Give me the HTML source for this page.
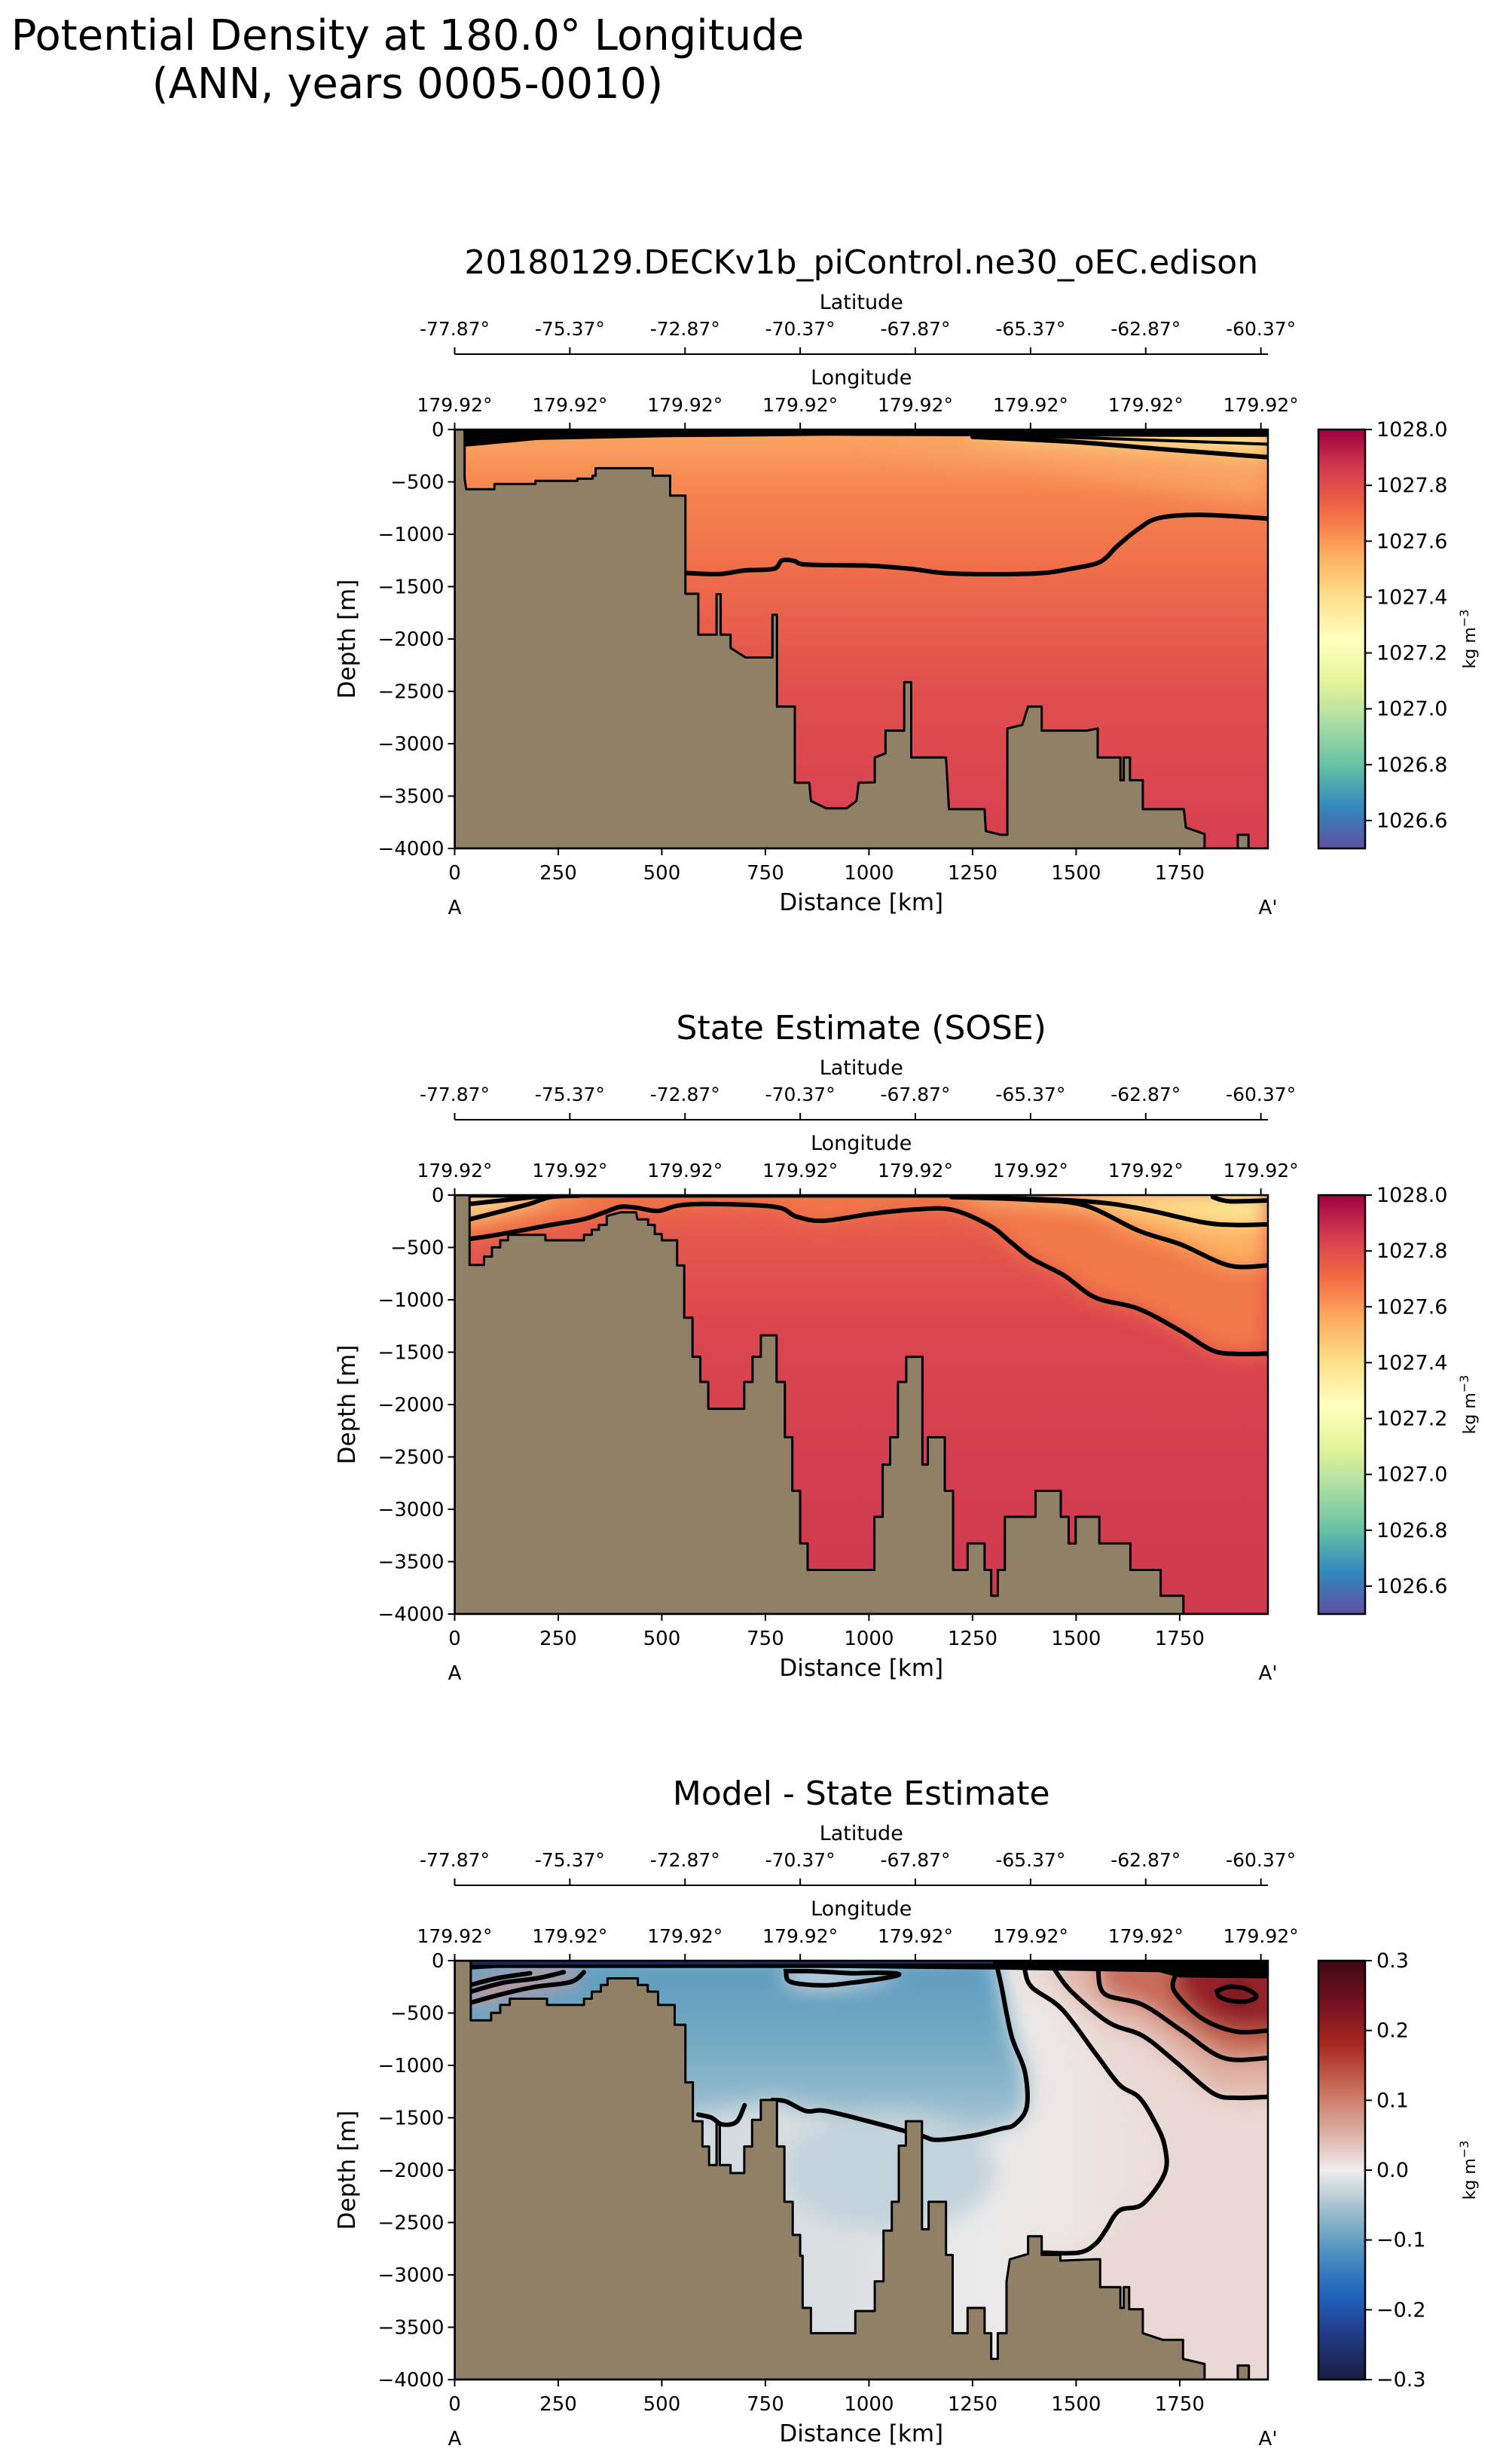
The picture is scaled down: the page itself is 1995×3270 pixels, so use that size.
<!DOCTYPE html>
<html><head><meta charset="utf-8"><style>
html,body{margin:0;padding:0;background:#fff;}
svg{display:block;font-family:"DejaVu Sans","Liberation Sans",sans-serif;}
</style></head><body>
<svg id="fig" xmlns="http://www.w3.org/2000/svg" width="1995" height="3270" viewBox="0 0 1995 3270">
<rect x="0" y="0" width="1995" height="3270" fill="#ffffff"/>
<text x="541" y="66" font-size="56" text-anchor="middle">Potential Density at 180.0° Longitude</text>
<text x="541" y="130" font-size="56" text-anchor="middle">(ANN, years 0005-0010)</text>
</svg>
<script>
// ---- data arrays ----
const distTicks=[0,250,500,750,1000,1250,1500,1750];
const depthTicks=[0,-500,-1000,-1500,-2000,-2500,-3000,-3500,-4000];
const latLabels=['-77.87°','-75.37°','-72.87°','-70.37°','-67.87°','-65.37°','-62.87°','-60.37°'];
const lonLabels=['179.92°','179.92°','179.92°','179.92°','179.92°','179.92°','179.92°','179.92°'];
const latTickKm=[0,278,556,834,1112,1390,1668,1946];
const cbTicksRho=[1026.6,1026.8,1027.0,1027.2,1027.4,1027.6,1027.8,1028.0];
const cbTicksDiff=[-0.3,-0.2,-0.1,0.0,0.1,0.2,0.3];
// bathymetry (km, depth m)
const bathyModel=[[0,0],[24,0],[24,470],[28,570],[96,570],[96,520],[195,520],[195,490],[296,490],[296,470],[333,470],[333,440],[340,440],[340,370],[478,370],[478,440],[520,440],[520,632],[557,632],[557,1568],[588,1568],[588,1959],[632,1959],[632,1572],[642,1572],[642,1959],[666,1959],[666,2085],[702,2176],[767,2176],[767,1769],[778,1769],[778,2646],[821,2646],[821,3372],[856,3372],[860,3546],[897,3617],[946,3617],[970,3546],[975,3372],[1014,3369],[1014,3132],[1040,3092],[1040,2875],[1085,2875],[1085,2413],[1102,2413],[1102,3132],[1186,3132],[1193,3625],[1279,3625],[1282,3834],[1319,3870],[1334,3870],[1334,2855],[1370,2820],[1384,2646],[1417,2646],[1417,2875],[1526,2875],[1552,2855],[1552,3132],[1607,3132],[1607,3349],[1615,3349],[1615,3132],[1630,3132],[1630,3349],[1661,3349],[1661,3625],[1760,3625],[1765,3800],[1810,3862],[1810,4000],[1890,4000],[1890,3870],[1916,3870],[1916,4000],[1963,4000],[1963,4000]];
const bathySose=[[0,0],[36,0],[36,667],[71,667],[71,587],[90,587],[90,499],[110,499],[110,432],[129,432],[129,379],[219,379],[219,432],[312,432],[312,379],[331,379],[331,331],[348,331],[348,285],[367,285],[367,200],[400,165],[438,165],[441,232],[467,232],[467,285],[483,285],[483,373],[500,373],[500,432],[537,432],[537,672],[554,672],[554,1171],[574,1171],[574,1544],[593,1544],[593,1784],[612,1784],[612,2040],[699,2040],[699,1784],[719,1784],[719,1544],[739,1544],[739,1339],[777,1339],[777,1784],[797,1784],[797,2312],[815,2312],[815,2824],[834,2824],[834,3326],[852,3326],[852,3579],[1013,3579],[1013,3072],[1033,3072],[1033,2574],[1051,2574],[1051,2312],[1070,2312],[1070,1784],[1090,1784],[1090,1544],[1129,1544],[1129,2574],[1142,2574],[1142,2312],[1183,2312],[1183,2824],[1203,2824],[1203,3579],[1238,3579],[1238,3326],[1279,3326],[1279,3579],[1295,3579],[1295,3825],[1311,3825],[1311,3579],[1328,3579],[1328,3072],[1402,3072],[1402,2824],[1463,2824],[1463,3072],[1482,3072],[1482,3326],[1499,3326],[1499,3072],[1556,3072],[1556,3326],[1631,3326],[1631,3579],[1704,3579],[1704,3825],[1759,3825],[1759,4000],[1963,4000]];
const bathySoseDiff=[[0,0],[39,0],[39,570],[88,570],[88,498],[110,498],[110,422],[133,422],[133,363],[223,363],[223,422],[312,422],[312,363],[331,363],[331,296],[353,296],[353,232],[369,232],[369,169],[442,169],[442,232],[466,232],[466,296],[491,296],[491,422],[531,422],[531,612],[557,612],[557,1162],[575,1162],[575,1533],[598,1533],[598,1774],[614,1774],[614,1951],[632,1951],[632,1563],[640,1563],[640,1951],[666,1951],[666,2028],[699,2028],[699,1774],[718,1774],[718,1520],[739,1520],[739,1330],[778,1330],[778,1774],[796,1774],[796,2302],[816,2302],[816,2619],[834,2619],[834,2817],[840,2817],[840,3316],[860,3316],[860,3557],[967,3557],[967,3345],[1014,3345],[1014,3062],[1035,3062],[1035,2577],[1055,2577],[1055,2302],[1072,2302],[1072,1766],[1089,1766],[1089,1533],[1128,1533],[1128,2564],[1144,2564],[1144,2302],[1186,2302],[1186,2809],[1202,2809],[1202,3557],[1238,3557],[1238,3316],[1279,3316],[1279,3557],[1295,3557],[1295,3802],[1311,3802],[1311,3557],[1332,3557],[1332,3062],[1340,2851],[1384,2800],[1384,2632],[1417,2632],[1417,2809],[1462,2809],[1462,2864],[1547,2851],[1558,2851],[1558,3117],[1607,3117],[1607,3316],[1615,3316],[1615,3117],[1628,3117],[1628,3328],[1661,3328],[1661,3557],[1709,3620],[1758,3620],[1758,3802],[1810,3850],[1810,4000],[1890,4000],[1890,3865],[1917,3865],[1917,4000],[1963,4000]];
// contours panel 1 (model)
const m1Deep=[[557,1370],[640,1380],[700,1345],[770,1330],[790,1250],[820,1255],[850,1290],[1000,1300],[1100,1330],[1200,1375],[1400,1375],[1500,1320],[1560,1260],[1600,1110],[1650,950],[1700,845],[1800,815],[1963,850]];
const m1TopA=[[1250,70],[1500,120],[1700,185],[1963,265]];
const m1TopB=[[1350,60],[1600,90],[1963,140]];
const m1Band=[[0,0],[1963,0],[1963,70],[1700,70],[1300,65],[900,60],[500,75],[200,100],[24,165],[0,165]];
// contours panel 2 (SOSE)
const s1=[[36,419],[103,379],[232,285],[310,232],[361,165],[400,112],[438,120],[490,152],[541,99],[619,85],[773,112],[825,205],[889,245],[1006,179],[1108,139],[1199,139],[1289,285],[1341,445],[1392,605],[1470,765],[1547,979],[1650,1085],[1753,1299],[1830,1485],[1895,1517],[1963,1512]];
const s2=[[36,232],[103,165],[180,85],[232,19],[300,5]];
const s3=[[36,85],[129,45],[219,5]];
const sR1=[[1199,19],[1392,45],[1521,99],[1650,339],[1753,472],[1869,672],[1963,672]];
const sR2=[[1263,19],[1521,59],[1650,125],[1805,259],[1882,285],[1963,280]];
const sR3=[[1830,19],[1869,59],[1963,51]];
// contours panel 3 (difference)
const dZero=[[1311,90],[1320,250],[1344,718],[1376,1056],[1381,1394],[1352,1563],[1319,1605],[1254,1668],[1165,1711],[1124,1668],[1027,1563],[897,1436],[848,1436],[799,1343],[767,1330]];
const dZeroLeft=[[588,1470],[620,1500],[645,1563],[680,1540],[700,1380]];
const dW=[[1376,90],[1393,253],[1466,465],[1547,887],[1604,1183],[1653,1309],[1693,1563],[1714,1774],[1714,2028],[1661,2323],[1604,2387],[1571,2577],[1547,2703],[1506,2788],[1417,2788]];
const dR2=[[1449,90],[1489,296],[1579,591],[1661,718],[1742,972],[1831,1267],[1888,1309],[1963,1300]];
const dR3=[[1553,90],[1569,317],[1661,422],[1758,676],[1856,929],[1963,929]];
const dR4=[[1738,148],[1738,296],[1803,549],[1885,676],[1963,667]];
const dLoop=[[1840,290],[1870,250],[1910,270],[1935,340],[1910,390],[1870,380],[1845,340]];
const dSmall=[[800,100],[805,190],[840,225],[900,235],[960,210],[1000,190],[1060,150],[1070,125],[1020,115],[960,120],[900,108],[850,100]];
const dL1=[[39,401],[117,317],[190,253],[280,203],[312,110]];
const dL2=[[39,296],[117,211],[198,169],[263,110]];
const dL3=[[39,232],[101,169],[182,120]];

// ---- geometry ----
const PX0=603.5, PX1=1683, XMAX=1963, H=556;
const TOPS=[570,1586,2602];
const CBX=1750, CBW=62;
const NS='http://www.w3.org/2000/svg';
const svg=document.getElementById('fig');
function X(km){return PX0+km*(PX1-PX0)/XMAX;}
function Y(d,T){return T+d/4000*H;}
function mk(tag,attrs,name,parent){
  const el=document.createElementNS(NS,tag);
  for(const k in attrs) el.setAttribute(k,attrs[k]);
  
  
  (parent||svg).appendChild(el);
  return el;
}
function txt(s,x,y,size,anchor,name,parent,extra){
  const a={x:x,y:y,'font-size':size,'text-anchor':anchor||'middle',fill:'#000'};
  if(extra) for(const k in extra) a[k]=extra[k];
  const t=mk('text',a,name,parent); t.textContent=s; return t;
}
function ptsStr(arr,T){return arr.map(p=>X(p[0]).toFixed(1)+','+Y(p[1],T).toFixed(1)).join(' ');}
function smoothPath(arr,T,close){
  const P=arr.map(p=>[X(p[0]),Y(p[1],T)]);
  let d='M'+P[0][0].toFixed(1)+','+P[0][1].toFixed(1);
  const n=P.length;
  for(let i=0;i<n-1;i++){
    const p0=P[Math.max(i-1,0)],p1=P[i],p2=P[i+1],p3=P[Math.min(i+2,n-1)];
    const c1=[p1[0]+(p2[0]-p0[0])/6,p1[1]+(p2[1]-p0[1])/6];
    const c2=[p2[0]-(p3[0]-p1[0])/6,p2[1]-(p3[1]-p1[1])/6];
    d+=' C'+c1[0].toFixed(1)+','+c1[1].toFixed(1)+' '+c2[0].toFixed(1)+','+c2[1].toFixed(1)+' '+p2[0].toFixed(1)+','+p2[1].toFixed(1);
  }
  if(close) d+=' Z';
  return d;
}
const defs=mk('defs',{},'defs');
const blur=mk('filter',{id:'blur',x:'-20%',y:'-20%',width:'140%',height:'140%'},'blur-filter',defs);
mk('feGaussianBlur',{stdDeviation:'14'},'blur-op',blur);
function lingrad(id,x1,y1,x2,y2,stops){
  const g=mk('linearGradient',{id:id,x1:x1,y1:y1,x2:x2,y2:y2},'gradient',defs);
  stops.forEach(s=>mk('stop',{offset:s[0],'stop-color':s[1]},'gradient-stop',g));
}
lingrad('g1','0','0','0','1',[[0,'#fba763'],[0.15,'#f6844e'],[0.35,'#ee6c4a'],[0.6,'#e0504d'],[1,'#d63f50']]);
lingrad('g2','0','0','0','1',[[0,'#e8614b'],[0.3,'#db474e'],[0.7,'#d23d4f'],[1,'#d0394f']]);
lingrad('g3','0','0','1','0',[[0,'#c9d7df'],[0.45,'#d9dee1'],[0.65,'#ebeaea'],[0.78,'#ece4e2'],[1,'#e7d5d1']]);
lingrad('gBlue','0','0','0','1',[[0,'#5c9bbf'],[0.4,'#6ea7c3'],[0.75,'#8fb8cb'],[1,'#b5ccd7']]);
lingrad('cbSpec','0','1','0','0',[[0,'#5e4fa2'],[0.1,'#3288bd'],[0.2,'#66c2a5'],[0.3,'#abdda4'],[0.4,'#e6f598'],[0.5,'#ffffbf'],[0.6,'#fee08b'],[0.7,'#fdae61'],[0.8,'#f46d43'],[0.9,'#d53e4f'],[1,'#9e0142']]);
lingrad('cbBal','0','1','0','0',[[0,'#181c43'],[0.12,'#233f8c'],[0.2,'#1f62bd'],[0.3,'#4a8fbf'],[0.4,'#9bbccb'],[0.5,'#f1eded'],[0.6,'#d9a99b'],[0.7,'#c66b55'],[0.8,'#a8281f'],[0.9,'#741021'],[1,'#3c0912']]);

function poly(arr,T,fill,name,parent){return mk('polygon',{points:ptsStr(arr,T),fill:fill},name,parent);}
function contour(arr,T,w,name,parent){return mk('path',{d:smoothPath(arr,T,false),fill:'none',stroke:'#000','stroke-width':w,'stroke-linejoin':'round','stroke-linecap':'round'},name,parent);}
function regionAbove(arr,T,fill,name,parent,closeLeft){
  const a=arr.slice();
  const first=a[0], last=a[a.length-1];
  const pts=a.concat([[last[0],-50]]).concat(closeLeft?[[0,-50],[0,first[1]]]:[[first[0],-50]]);
  return poly(pts,T,fill,name,parent);
}
function regionRight(arr,T,fill,name,parent){
  const pts=arr.concat([[2100,arr[arr.length-1][1]],[2100,-50],[arr[0][0],-50]]);
  return poly(pts,T,fill,name,parent);
}

function panel(idx,title,baseFill,fieldFn,bathy,cbGrad,cbTicks,cbMin,cbMax,cbFmt){
  const T=TOPS[idx];
  const g=mk('g',{},'panel-'+(idx+1));
  txt(title,(PX0+PX1)/2,T-207,44,'middle','panel-title',g);
  txt('Latitude',(PX0+PX1)/2,T-160,27,'middle','latitude-axis-title',g);
  mk('line',{x1:PX0,x2:PX1,y1:T-100,y2:T-100,stroke:'#000','stroke-width':2},'latitude-axis-line',g);
  latTickKm.forEach((k,i)=>{
    mk('line',{x1:X(k),x2:X(k),y1:T-100,y2:T-109,stroke:'#000','stroke-width':2},'latitude-tick',g);
    txt(latLabels[i],X(k),T-125,25,'middle','latitude-tick-label',g);
  });
  txt('Longitude',(PX0+PX1)/2,T-60,27,'middle','longitude-axis-title',g);
  latTickKm.forEach((k,i)=>{
    mk('line',{x1:X(k),x2:X(k),y1:T,y2:T-9,stroke:'#000','stroke-width':2},'longitude-tick',g);
    txt(lonLabels[i],X(k),T-24,25,'middle','longitude-tick-label',g);
  });
  const cp=mk('clipPath',{id:'clip'+idx},'clip',defs);
  mk('rect',{x:PX0,y:T,width:PX1-PX0,height:H},'clip-rect',cp);
  const area=mk('g',{'clip-path':'url(#clip'+idx+')'},'plot-area',g);
  mk('rect',{x:PX0,y:T,width:PX1-PX0,height:H,fill:baseFill},'field-base',area);
  const soft=mk('g',{filter:'url(#blur)'},'field-shading',area);
  const sharp=mk('g',{},'contour-lines',area);
  fieldFn(T,soft,sharp);
  const b=poly(bathy.concat([[0,4000]]),T,'#8f8066','bathymetry',area);
  b.setAttribute('stroke','#000');
  b.setAttribute('stroke-width','3');
  b.setAttribute('stroke-linejoin','round');
  mk('rect',{x:PX0,y:T,width:PX1-PX0,height:H,fill:'none',stroke:'#000','stroke-width':2.5},'plot-frame',g);
  distTicks.forEach(v=>{
    mk('line',{x1:X(v),x2:X(v),y1:T+H,y2:T+H+9,stroke:'#000','stroke-width':2},'x-tick',g);
    txt(String(v),X(v),T+H+41,26,'middle','x-tick-label',g);
  });
  txt('Distance [km]',(PX0+PX1)/2,T+H+82,31,'middle','x-axis-title',g);
  txt('A',PX0,T+H+87,26,'middle','section-start-label',g);
  txt("A'",PX1,T+H+87,26,'middle','section-end-label',g);
  depthTicks.forEach(v=>{
    const y=Y(-v,T);
    mk('line',{x1:PX0,x2:PX0-9,y1:y,y2:y,stroke:'#000','stroke-width':2},'y-tick',g);
    txt(String(v).replace('-','\u2212'),PX0-14,y+9,26,'end','y-tick-label',g);
  });
  txt('Depth [m]',0,0,31,'middle','y-axis-title',g,{transform:'translate(471,'+(T+H/2)+') rotate(-90)'});
  mk('rect',{x:CBX,y:T,width:CBW,height:H,fill:'url(#'+cbGrad+')',stroke:'#000','stroke-width':2.5},'colorbar',g);
  cbTicks.forEach(v=>{
    const y=T+H-(v-cbMin)/(cbMax-cbMin)*H;
    mk('line',{x1:CBX+CBW,x2:CBX+CBW+9,y1:y,y2:y,stroke:'#000','stroke-width':2},'colorbar-tick',g);
    txt(cbFmt(v),CBX+CBW+15,y+9,27,'start','colorbar-tick-label',g);
  });
  const u=txt('kg m',0,0,22,'middle','colorbar-label',g,{transform:'translate(1958,'+(T+H/2)+') rotate(-90)'});
  const sup=document.createElementNS(NS,'tspan');
  
  
  sup.setAttribute('dy','-9'); sup.setAttribute('font-size','16'); sup.textContent='\u22123';
  u.appendChild(sup);
}

const fmtRho=v=>v.toFixed(1);
const fmtDiff=v=>(v<0?'\u2212':'')+Math.abs(v).toFixed(1);

panel(0,'20180129.DECKv1b_piControl.ne30_oEC.edison','url(#g1)',function(T,soft,sharp){
  poly([[1000,60],[1963,60],[1963,700],[1700,550],[1400,350],[1100,200]],T,'#f9a262','light-orange-shading',soft);
  regionAbove(m1TopA,T,'#fdd07a','yellow-layer',soft,false);
  regionAbove(m1TopB,T,'#fee89c','pale-yellow-layer',soft,false);
  poly(m1Band,T,'#000','surface-contour-band',sharp);
  contour(m1TopA,T,6,'contour-upper',sharp);
  contour(m1TopB,T,4,'contour-surface-right',sharp);
  contour(m1Deep,T,6,'contour-deep',sharp);
},bathyModel,'cbSpec',cbTicksRho,1026.5,1028.0,fmtRho);

panel(1,'State Estimate (SOSE)','url(#g2)',function(T,soft,sharp){
  regionAbove(s1,T,'#f27948','orange-layer',soft,true);
  regionAbove(sR1,T,'#fdb062','light-orange-layer',soft,false);
  regionAbove(sR2,T,'#fee38f','yellow-layer',soft,false);
  regionAbove(sR3,T,'#e4f39c','green-yellow-layer',soft,false);
  regionAbove(s2,T,'#fdc877','left-yellow-layer',soft,true);
  regionAbove(s3,T,'#fff0a8','left-pale-layer',soft,true);
  mk('line',{x1:X(0),x2:X(1300),y1:Y(3,T),y2:Y(3,T),stroke:'#000','stroke-width':6},'surface-contour',sharp);
  [s1,s2,s3,sR1,sR2,sR3].forEach(c=>contour(c,T,6,'density-contour',sharp));
},bathySose,'cbSpec',cbTicksRho,1026.5,1028.0,fmtRho);

panel(2,'Model - State Estimate','url(#g3)',function(T,soft,sharp){
  const blue=dZero.concat([[700,1380],[588,1470],[0,1470],[0,-50],[1311,-50]]);
  poly(blue,T,'url(#gBlue)','negative-anomaly-region',soft);
  mk('ellipse',{cx:X(1050),cy:Y(2000,T),rx:140,ry:80,fill:'#c3d3db'},'deep-blue-shading',soft);
  poly(dW.concat([[1417,4000],[2100,4000],[2100,-50],[1376,-50]]),T,'#e9d8d3','positive-anomaly-region',soft);
  regionRight(dR2,T,'#e0b3a6','anomaly-band-0.1',soft);
  regionRight(dR3,T,'#c86c58','anomaly-band-0.15',soft);
  regionRight(dR4,T,'#98202c','anomaly-band-0.2',soft);
  poly(dLoop,T,'#4a0914','anomaly-max',soft);
  poly(dSmall,T,'#e6ecee','small-anomaly-loop',soft);
  poly([[39,250],[182,120],[312,110],[280,203],[190,253],[117,317],[39,401]],T,'#d9937f','left-positive-pocket',soft);
  poly([[0,0],[1963,0],[1963,170],[1750,160],[1700,110],[1300,85],[900,70],[500,70],[100,70],[39,85],[0,85]],T,'#000','surface-contour-band',sharp);
  poly([[40,5],[1300,5],[1300,30],[40,40]],T,'#1c2656','surface-negative-strip',sharp);
  contour(dZero,T,6,'zero-contour',sharp);
  contour(dZeroLeft,T,6,'zero-contour-left',sharp);
  [dW,dR2,dR3,dR4,dL1,dL2,dL3].forEach(c=>contour(c,T,6,'anomaly-contour',sharp));
  mk('path',{d:smoothPath(dLoop.concat([dLoop[0]]),T,true),fill:'none',stroke:'#000','stroke-width':6},'anomaly-max-contour',sharp);
  mk('path',{d:smoothPath(dSmall.concat([dSmall[0]]),T,true),fill:'none',stroke:'#000','stroke-width':6},'small-loop-contour',sharp);
},bathySoseDiff,'cbBal',cbTicksDiff,-0.3,0.3,fmtDiff);
</script>
</body></html>
